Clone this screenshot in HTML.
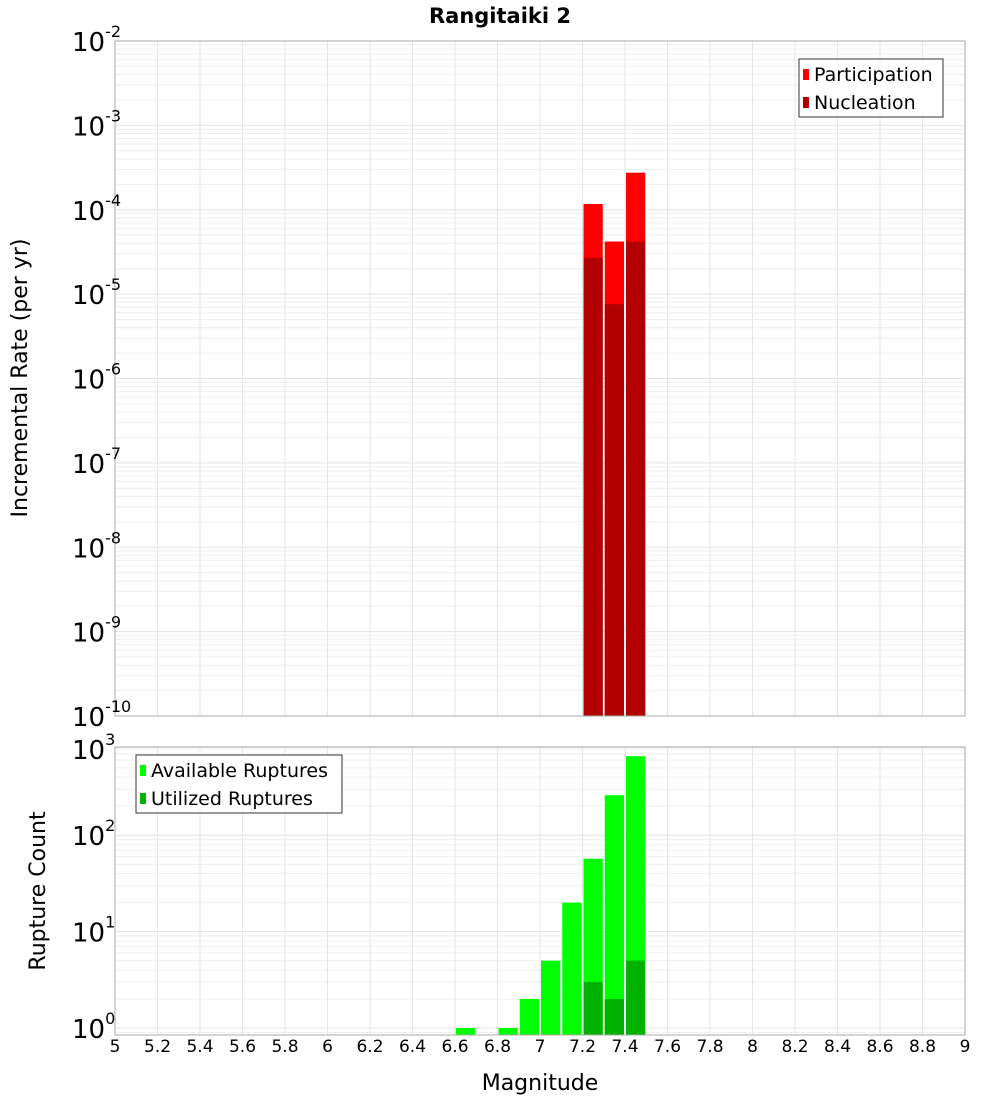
<!DOCTYPE html>
<html><head><meta charset="utf-8"><style>
body{margin:0;background:#fff;font-family:"Liberation Sans","DejaVu Sans",sans-serif;}
svg text{font-family:"DejaVu Sans","Liberation Sans",sans-serif;}
</style></head><body>
<svg id="c" width="1000" height="1100" xmlns="http://www.w3.org/2000/svg">
<rect width="1000" height="1100" fill="#fff"/>
<text x="500" y="23" text-anchor="middle" font-size="21" font-weight="bold">Rangitaiki 2</text>
<g id="topg"></g><g id="botg"></g>
</svg>
<script>
const mags=[7.25,7.35,7.45];
const participation=[1.17e-4,4.2e-5,2.75e-4];
const nucleation=[2.7e-5,7.6e-6,4.2e-5];
const cntMags=[6.65,6.85,6.95,7.05,7.15,7.25,7.35,7.45];
const available=[1,1,2,5,20,57,260,660];
const utilized=[0,0,0,0,0,3,2,5];
const xTicks=[5,5.2,5.4,5.6,5.8,6,6.2,6.4,6.6,6.8,7,7.2,7.4,7.6,7.8,8,8.2,8.4,8.6,8.8,9];
const topExp=[-10,-9,-8,-7,-6,-5,-4,-3,-2];
const botExp=[0,1,2,3];

const NS="http://www.w3.org/2000/svg";
const L=115,R=965;
const xs=m=>L+(m-5)/4*(R-L);
const T1=41,B1=716;
const ysTop=v=>T1+(-2-Math.log10(v))*(B1-T1)/8;
const T2=747,B2=1035,Y0=1028,DEC=96.4;
const ysBot=v=>Y0-Math.log10(v)*DEC;
function el(parent,tag,attrs,name){const e=document.createElementNS(NS,tag);for(const k in attrs)e.setAttribute(k,attrs[k]);


parent.appendChild(e);return e;}
const gTop=document.getElementById('topg'),gBot=document.getElementById('botg');

function grid(g,T,B,ys,e0,e1){
  for(let e=e0;e<=e1;e++)for(let k=1;k<10;k++){const y=ys(k*Math.pow(10,e));if(y<T-0.5||y>B+0.5)continue;
    el(g,'line',{x1:L,x2:R,y1:y,y2:y,stroke:k==1?'#e2e2e2':'#eeeeee','stroke-width':1},'h-gridline');}
  xTicks.forEach(t=>{const x=xs(t);el(g,'line',{x1:x,x2:x,y1:T,y2:B,stroke:'#e6e6e6','stroke-width':1},'v-gridline');});
}
grid(gTop,T1,B1,ysTop,-10,-3);
grid(gBot,T2,B2,ysBot,-1,3);

const bw=(xs(5.1)-xs(5))-2;
mags.forEach((m,i)=>{const x=xs(m)-bw/2;
  el(gTop,'rect',{x:x,y:ysTop(participation[i]),width:bw,height:B1-ysTop(participation[i]),fill:'#ff0000'},'participation-bar');
  el(gTop,'rect',{x:x,y:ysTop(nucleation[i]),width:bw,height:B1-ysTop(nucleation[i]),fill:'#b20000'},'nucleation-bar');
});
cntMags.forEach((m,i)=>{const x=xs(m)-bw/2;
  if(available[i]>0)el(gBot,'rect',{x:x,y:ysBot(available[i]),width:bw,height:B2-ysBot(available[i]),fill:'#00ff00'},'available-bar');
  if(utilized[i]>0)el(gBot,'rect',{x:x,y:ysBot(utilized[i]),width:bw,height:B2-ysBot(utilized[i]),fill:'#00b200'},'utilized-bar');
});
el(gTop,'rect',{x:L,y:T1,width:R-L,height:B1-T1,fill:'none',stroke:'#aaa'},'top-plot-frame');
el(gBot,'rect',{x:L,y:T2,width:R-L,height:B2-T2,fill:'none',stroke:'#aaa'},'bottom-plot-frame');

function ylab(g,e,y){const t=el(g,'text',{x:72,y:y+10,'text-anchor':'start','font-size':26},'y-tick-label');
  const a=document.createElementNS(NS,'tspan');a.textContent='10';t.appendChild(a);
  const b=document.createElementNS(NS,'tspan');b.setAttribute('font-size','16');b.setAttribute('dy','-14');b.textContent=String(e);t.appendChild(b);}
topExp.forEach(e=>ylab(gTop,e,ysTop(Math.pow(10,e))));
botExp.forEach(e=>{let y=ysBot(Math.pow(10,e));if(e==3)y=T2+2;ylab(gBot,e,y);});
xTicks.forEach(t=>{const tx=el(gBot,'text',{x:xs(t),y:1052,'text-anchor':'middle','font-size':17},'x-tick-label');tx.textContent=String(t);});

const yt=el(gTop,'text',{x:27,y:378,'text-anchor':'middle','font-size':22,transform:'rotate(-90 27 378)'},'top-y-axis-title');yt.textContent='Incremental Rate (per yr)';
const yb=el(gBot,'text',{x:45,y:891,'text-anchor':'middle','font-size':22,transform:'rotate(-90 45 891)'},'bottom-y-axis-title');yb.textContent='Rupture Count';
const xt=el(gBot,'text',{x:540,y:1090,'text-anchor':'middle','font-size':22},'x-axis-title');xt.textContent='Magnitude';

function legend(g,x,y,w,items){el(g,'rect',{x:x,y:y,width:w,height:58,fill:'#fff',stroke:'#333'},'legend-box');
  items.forEach((it,i)=>{const cy=y+15+i*28;
    el(g,'rect',{x:x+4,y:cy-5,width:6,height:11,fill:it[1]},'legend-swatch');
    const t=el(g,'text',{x:x+15,y:cy+7,'font-size':19},'legend-entry');t.textContent=it[0];});}
legend(gTop,799,59,144,[['Participation','#ff0000'],['Nucleation','#b20000']]);
legend(gBot,136,755,206,[['Available Ruptures','#00ff00'],['Utilized Ruptures','#00b200']]);
</script>
</body></html>
